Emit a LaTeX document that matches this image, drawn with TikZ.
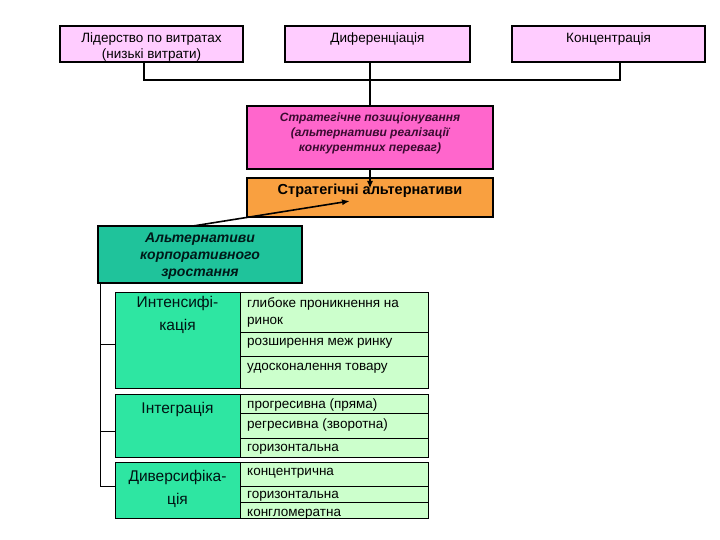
\documentclass[tikz,border=0pt]{standalone}
\usepackage{fontspec}
\setmainfont{Liberation Sans}
\usetikzlibrary{arrows.meta}
\definecolor{lightpink}{HTML}{FFCCFF}
\definecolor{hotpink}{HTML}{FF66CC}
\definecolor{orangebox}{HTML}{F9A040}
\definecolor{tealbox}{HTML}{1FC39B}
\definecolor{springbox}{HTML}{2EE6A2}
\definecolor{palegreen}{HTML}{CCFFCC}
\definecolor{darkplum}{HTML}{3A0A30}
\begin{document}
\begin{tikzpicture}[x=1pt,y=-1pt,
  box/.style={draw,anchor=north west,inner sep=0pt,outer sep=0pt},
  topbox/.style={box,line width=1.3pt,fill=lightpink,minimum height=36},
  cell/.style={box,line width=0.8pt,fill=palegreen,minimum width=188},
  leftcell/.style={box,line width=0.8pt,fill=springbox,minimum width=125},
  toptext/.style={anchor=north,align=center,inner sep=0pt,font=\fontsize{13.5}{16}\selectfont},
  celltext/.style={anchor=west,align=left,inner sep=0pt,font=\fontsize{13.5}{17}\selectfont},
  lefttext/.style={anchor=north,align=center,inner sep=0pt,font=\fontsize{15.5}{23}\selectfont,text=black!85!teal},
  link/.style={line width=1.6pt}]
\useasboundingbox[fill=white](0,0)rectangle(720,540);
\node[topbox,minimum width=183](lead)at(60,26){};
\node[topbox,minimum width=185](diff)at(285,26){};
\node[topbox,minimum width=193](focus)at(512,26){};
\node[toptext](leadtxt)at([yshift=-7pt]lead.north){Лідерство по витратах\\(низькі витрати)};
\node[toptext](difftxt)at([yshift=-7pt]diff.north){Диференціація};
\node[toptext](focustxt)at([yshift=-7pt]focus.north){Концентрація};
\coordinate(busL)at(144,80);
\coordinate(busM)at(370,80);
\coordinate(busR)at(620,80);
\draw[link](lead.south-|busL)--(busL)--(busR)--(focus.south-|busR);
\node[box,line width=1.8pt,fill=hotpink,minimum width=246,minimum height=63](pos)at(247,106){};
\node[align=center,inner sep=0pt,font=\fontsize{12}{15}\bfseries\itshape\selectfont,text=darkplum](postxt)
  at([yshift=4pt]pos.center){Стратегічне позиціонування\\(альтернативи реалізації\\конкурентних переваг)};
\draw[link](diff.south-|busM)--(pos.north);
\node[box,line width=1.8pt,fill=orangebox,minimum width=246,minimum height=39](alt)at(247,178){};
\node[anchor=north,inner sep=0pt,font=\fontsize{14.5}{17}\bfseries\selectfont](alttxt)at([yshift=-6pt]alt.north){Стратегічні альтернативи};
\coordinate(altin)at(370,189);
\coordinate(altside)at(350,201);
\draw[link,-{Latex[length=8pt,width=6pt]}](pos.south)--(altin);
\node[box,line width=2.4pt,fill=tealbox,minimum width=204,minimum height=57](grow)at(98,226){};
\node[align=center,inner sep=0pt,font=\fontsize{14}{17}\bfseries\itshape\selectfont,text=black!80!teal](growtxt)
  at([yshift=-2pt]grow.center){Альтернативи\\корпоративного\\зростання};
\draw[link,-{Latex[length=8pt,width=6pt]}](grow.north)++(-7,0)--(altside);
\node[leftcell,minimum height=96](intL)at(115,292){};
\node[cell,minimum height=40](int1)at(240,292){};
\node[cell,minimum height=24](int2)at(240,332){};
\node[cell,minimum height=32](int3)at(240,356){};
\node[leftcell,minimum height=63](integL)at(115,394){};
\node[cell,minimum height=19](integ1)at(240,394){};
\node[cell,minimum height=25](integ2)at(240,413){};
\node[cell,minimum height=19](integ3)at(240,438){};
\node[leftcell,minimum height=56](divL)at(115,462){};
\node[cell,minimum height=24](div1)at(240,462){};
\node[cell,minimum height=16](div2)at(240,486){};
\node[cell,minimum height=16](div3)at(240,502){};
\node[lefttext](intLtxt)at([yshift=-4pt]intL.north){Интенсифі-\\кація};
\node[lefttext](integLtxt)at([yshift=-8pt]integL.north){Інтеграція};
\node[lefttext](divLtxt)at([yshift=-8pt]divL.north){Диверсифіка-\\ція};
\node[celltext](int1txt)at(247,312){глибоке проникнення на\\ринок};
\node[celltext](int2txt)at(247,343){розширення меж ринку};
\node[celltext](int3txt)at(247,368){удосконалення товару};
\node[celltext](integ1txt)at(247,405){прогресивна (пряма)};
\node[celltext](integ2txt)at(247,425){регресивна (зворотна)};
\node[celltext](integ3txt)at(247,449){горизонтальна};
\node[celltext](div1txt)at(247,473){концентрична};
\node[celltext](div2txt)at(247,496){горизонтальна};
\node[celltext](div3txt)at(247,514){конгломератна};
\coordinate(trunk)at(100,486);
\draw[line width=1pt](grow.south-|trunk)--(trunk)--(divL.west|-trunk);
\draw[line width=1pt](trunk|-0,344)--(intL.west|-0,344);
\draw[line width=1pt](trunk|-0,431)--(integL.west|-0,431);
\end{tikzpicture}
\end{document}
